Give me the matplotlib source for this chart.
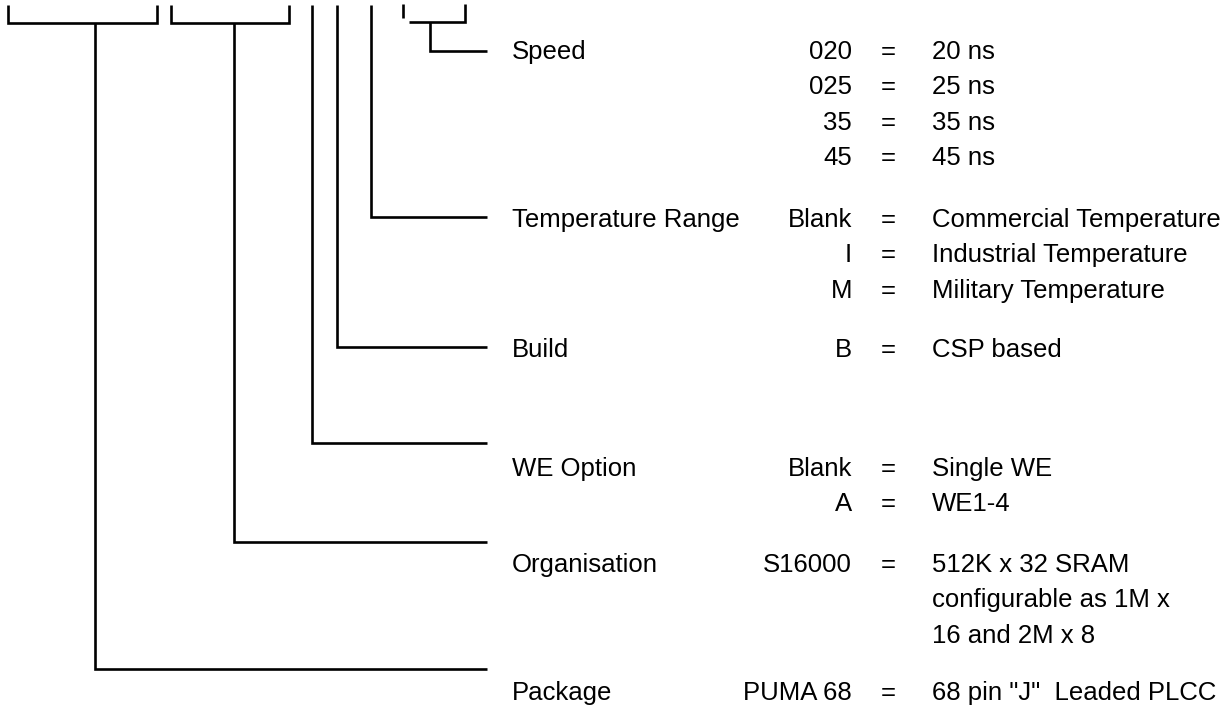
import matplotlib
matplotlib.use("Agg")
import matplotlib.pyplot as plt

# ordering information - part number fields
fields = ["Speed", "Temperature Range", "Build", "WE Option", "Organisation", "Package"]
codes = [
    ["020", "025", "35", "45"],
    ["Blank", "I", "M"],
    ["B"],
    ["Blank", "A"],
    ["S16000", ""],
    ["PUMA 68"],
]
meanings = [
    ["20 ns", "25 ns", "35 ns", "45 ns"],
    ["Commercial Temperature", "Industrial Temperature", "Military Temperature"],
    ["CSP based"],
    ["Single WE", "WE1-4"],
    ["512K x 32 SRAM", "configurable as 1M x", "16 and 2M x 8"],
    ["68 pin \"J\"  Leaded PLCC"],
]

# layout (pixel units, y down)
W, H = 1228, 709
lead_y = [51, 217, 347, 443, 542, 669]      # leader line heights per field
stem_x = [430, 371, 337, 312, 234, 95]      # where the leader comes down
text_base = [59, 227, 357, 476, 572, 700]   # baseline of first row
row_h = 35.3
x_end = 487
x_name, x_code, x_eq, x_val = 512, 852, 888, 932
top, brk = 5, 23

plt.rcParams['font.family'] = ['Liberation Sans', 'DejaVu Sans']
fs = 18.5
lw = 1.9

fig = plt.figure(figsize=(W / 100, H / 100), dpi=100)
ax = fig.add_axes([0, 0, 1, 1])
ax.set_xlim(0, W)
ax.set_ylim(H, 0)
ax.axis('off')

def line(xs, ys):
    ax.plot(xs, ys, color='black', lw=lw, solid_capstyle='butt', solid_joinstyle='miter')

# brackets at the top
line([8, 8, 157, 157], [top, brk, brk, top])
line([171, 171, 289, 289], [top, brk, brk, top])
line([403, 403], [4, 18])
line([409, 465, 465], [22, 22, 4])

# leaders down to each field
for i in range(len(fields)):
    y0 = 22 if i == 0 else (brk if stem_x[i] in (95, 234) else top)
    line([stem_x[i], stem_x[i], x_end], [y0, lead_y[i], lead_y[i]])

# text
for i, name in enumerate(fields):
    b = text_base[i]
    ax.text(x_name, b, name, fontsize=fs, va='baseline', ha='left')
    for j, m in enumerate(meanings[i]):
        y = b + j * row_h
        c = codes[i][j] if j < len(codes[i]) else ""
        if c:
            ax.text(x_code, y, c, fontsize=fs, va='baseline', ha='right')
            ax.text(x_eq, y, "=", fontsize=fs, va='baseline', ha='center')
        ax.text(x_val, y, m, fontsize=fs, va='baseline', ha='left')

fig.savefig("out.png", dpi=100, facecolor='white')
